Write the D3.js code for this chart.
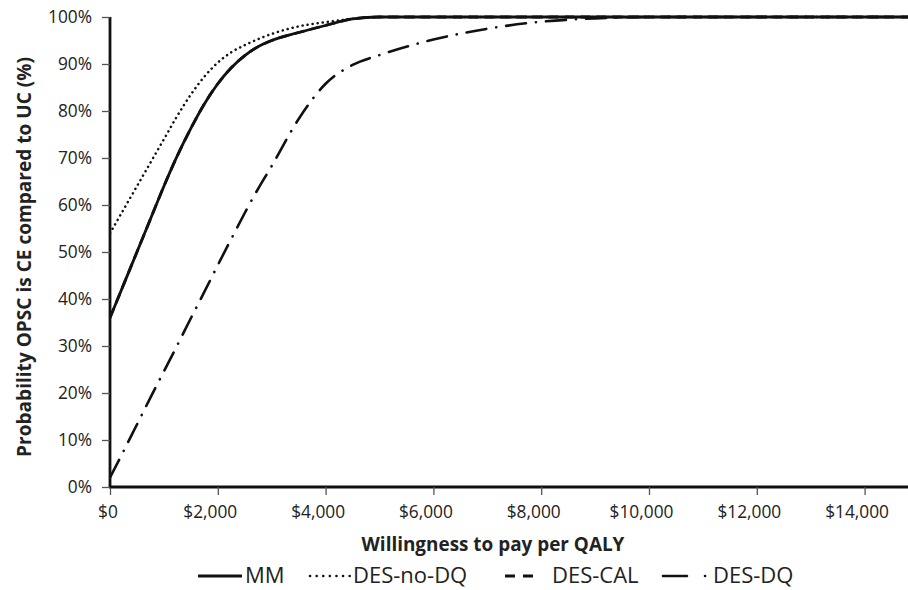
<!DOCTYPE html>
<html>
<head>
<meta charset="utf-8">
<script src="https://cdn.jsdelivr.net/npm/d3@7"></script>
<style>
body{margin:0;background:#fff;}
text{font-family:"Open Sans","Liberation Sans",sans-serif;fill:#222;}
.tick text{font-size:16px;}
.ttl{font-weight:bold;font-size:18px;}
.leg{font-size:22px;}
</style>
</head>
<body>
<div id="chart"></div>
<script>
// willingness to pay ($ per QALY)
var wtp = [0,250,500,750,1000,1250,1500,1750,2000,2250,2500,2750,3000,3500,4000,4500,5000,6000,7000,8000,9000,10000,12000,14000,15000];
// probability (%) that OPSC is cost-effective
var mm      = [36,43,50,57,64,70.5,76.3,81.5,85.8,89.2,91.8,93.7,95,96.7,98.2,99.6,100,100,100,100,100,100,100,100,100];
var desNoDq = [54,59,64,69,74,79,83.5,87.3,90.3,92.5,94,95.3,96.4,98,98.9,99.6,100,100,100,100,100,100,100,100,100];
var desCal  = [36,43,50,57,64,70.5,76.3,81.5,85.8,89.2,91.8,93.7,95,96.7,98.2,99.6,100,100,100,100,100,100,100,100,100];
var desDq   = [2,7.6,13.3,19,24.6,30.2,35.9,41.5,47.2,52.8,58.3,63.5,68.3,78.3,85.8,89.8,91.9,95.2,97.5,99,99.7,100,100,100,100];
var seriesNames = ['MM','DES-no-DQ','DES-CAL','DES-DQ'];
var xTicks = [0,2000,4000,6000,8000,10000,12000,14000];
var yTicks = [0,10,20,30,40,50,60,70,80,90,100];

var W = 908, H = 590;
var m = {left:110, top:17, right:0, bottom:103};

var svg = d3.select('#chart').append('svg')
	.attr('width',W).attr('height',H);

var x = d3.scaleLinear().domain([0,15000]).range([m.left, m.left+7.5*107.8]);
var y = d3.scaleLinear().domain([0,100]).range([H-m.bottom, m.top]);

svg.append('defs').append('clipPath').attr('id','clip')
	.append('rect').attr('x',m.left).attr('y',0).attr('width',W-m.left).attr('height',H);

// fit a text's font size to a measured width
function fitText(sel,target){
	var w = sel.node().getComputedTextLength();
	var fs = parseFloat(sel.style('font-size'));
	return fs*target/w;
}

// styles per series
var styles = [
	{dash:null, cap:'butt', w:2.8},
	{dash:'0.1 5', cap:'round', w:2.5},
	{dash:'10 6', cap:'butt', w:2.8},
	{dash:'20 10 0.1 10', cap:'round', w:2.6}
];
var data = [mm, desNoDq, desCal, desDq];

var line = d3.line()
	.x(function(d,i){return x(wtp[i]);})
	.y(function(d){return y(d);})
	.curve(d3.curveMonotoneX);

var g = svg.append('g').attr('clip-path','url(#clip)');
// draw DES-CAL first so MM sits on top of it
[2,3,1,0].forEach(function(k){
	g.append('path')
		.attr('d', line(data[k]))
		.attr('fill','none')
		.attr('stroke','#111')
		.attr('stroke-width',styles[k].w)
		.attr('stroke-linecap',styles[k].cap)
		.attr('stroke-dasharray',styles[k].dash);
});

// axes
var xAxis = svg.append('g')
	.attr('transform','translate(0,'+y(0)+')')
	.call(d3.axisBottom(x).tickValues(xTicks).tickSize(8)
		.tickFormat(function(d){return '$'+d3.format(',')(d);}));
xAxis.select('.domain').attr('d','M'+(m.left-1)+',0H'+W).attr('stroke','#111').attr('stroke-width',2.8);
xAxis.selectAll('.tick line').attr('stroke','#555').attr('stroke-width',1.3);
xAxis.selectAll('.tick text')
	.attr('y',31).attr('dy',null)
	.attr('dx',function(d){return d==0 ? -2.5 : -8;});

var yAxis = svg.append('g')
	.attr('transform','translate('+m.left+',0)')
	.call(d3.axisLeft(y).tickValues(yTicks).tickSize(8).tickPadding(10)
		.tickFormat(function(d){return d+'%';}));
yAxis.select('.domain').attr('d','M0,'+y(100)+'V'+(y(0)+1)).attr('stroke','#111').attr('stroke-width',2.8);
yAxis.selectAll('.tick line').attr('stroke','#555').attr('stroke-width',1.3);

var fsTick = fitText(yAxis.selectAll('.tick text').filter(function(d){return d==100;}),44);
svg.selectAll('.tick text').style('font-size',fsTick+'px').attr('fill','#2a2a2a');

// axis titles
var xt = svg.append('text').attr('class','ttl')
	.attr('x',493).attr('y',551).attr('text-anchor','middle')
	.text('Willingness to pay per QALY');
xt.style('font-size',fitText(xt,263)+'px');
var yt = svg.append('text').attr('class','ttl')
	.attr('transform','translate(31,257) rotate(-90)')
	.attr('text-anchor','middle')
	.text('Probability  OPSC is CE compared to UC (%)');
yt.style('font-size',fitText(yt,400)+'px');

// legend
var legItems = [
	{x:198, len:44, tx:245, dash:null},
	{x:310, len:40, tx:353, dash:'0.1 6.5'},
	{x:505, len:28, tx:552, dash:'10 8'},
	{x:663, len:43, tx:713, dash:'24 18 0.1 100'}
];
var leg = svg.append('g').attr('transform','translate(0,576)');
legItems.forEach(function(d,i){
	leg.append('line')
		.attr('x1',d.x).attr('x2',d.x+d.len).attr('y1',0).attr('y2',0)
		.attr('stroke','#111')
		.attr('stroke-width',styles[i].w)
		.attr('stroke-linecap',styles[i].cap)
		.attr('stroke-dasharray',d.dash);
	leg.append('text').attr('class','leg')
		.attr('x',d.tx).attr('y',7)
		.text(seriesNames[i]);
});
</script>
</body>
</html>
